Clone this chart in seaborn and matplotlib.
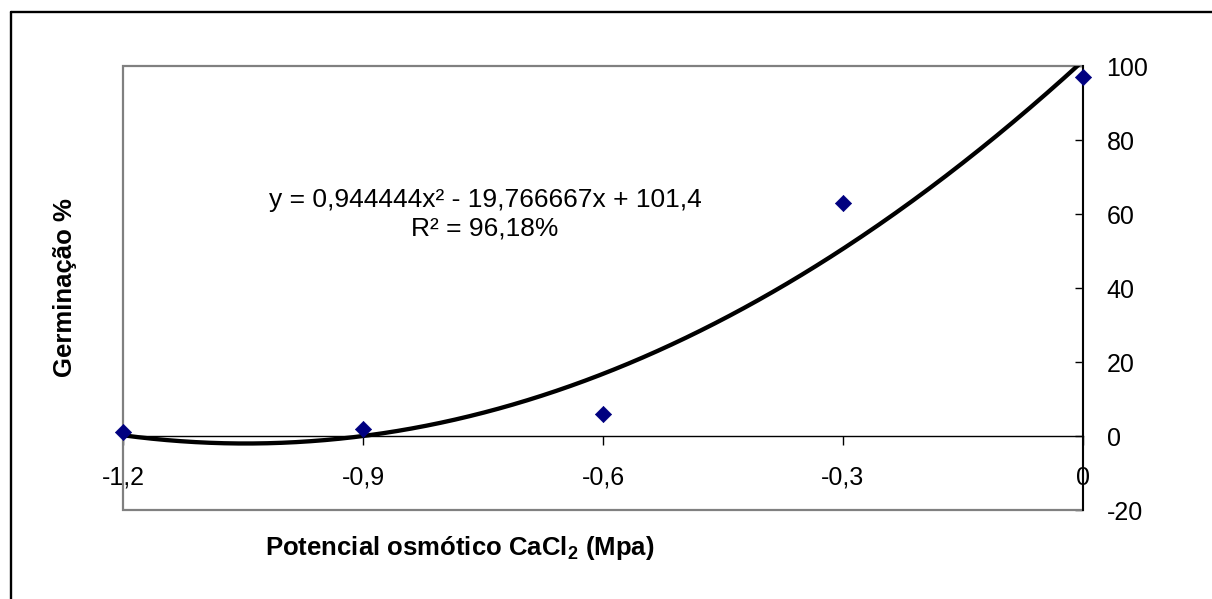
import numpy as np
import pandas as pd
import matplotlib
matplotlib.use("Agg")
import matplotlib.pyplot as plt
import seaborn as sns
from matplotlib.lines import Line2D
from matplotlib.patches import Rectangle

# Germination (%) under CaCl2 osmotic potential (MPa)
potencial = [-1.2, -0.9, -0.6, -0.3, 0.0]
germinacao = [1, 2, 6, 63, 97]

x_ticks = [-1.2, -0.9, -0.6, -0.3, 0.0]
x_tick_labels = ["-1,2", "-0,9", "-0,6", "-0,3", "0"]
y_ticks = [-20, 0, 20, 40, 60, 80, 100]
y_tick_labels = ["-20", "0", "20", "40", "60", "80", "100"]

equation = "y = 0,944444x² - 19,766667x + 101,4"
r2_label = "R² = 96,18%"
x_title = r"Potencial osmótico CaCl$_\mathbf{2}$ (Mpa)"
y_title = "Germinação %"

sns.set_theme(style="white")
plt.rcParams["font.family"] = ["Liberation Sans", "DejaVu Sans"]
plt.rcParams["mathtext.fontset"] = "custom"
plt.rcParams["mathtext.rm"] = "Liberation Sans"
plt.rcParams["mathtext.bf"] = "Liberation Sans:bold"
plt.rcParams["text.color"] = "black"
plt.rcParams["axes.labelcolor"] = "black"
plt.rcParams["xtick.color"] = "black"
plt.rcParams["ytick.color"] = "black"

df = pd.DataFrame({"potencial": potencial, "germinacao": germinacao})

W, H = 1212, 599
fig = plt.figure(figsize=(W / 100, H / 100), dpi=100)
fig.patch.set_facecolor("white")
ax = fig.add_axes([123 / W, 1 - 510 / H, 960 / W, 444 / H])
ax.set_facecolor("white")

# second-order polynomial trend line
coef = np.polyfit(potencial, germinacao, 2)
xs = np.linspace(min(potencial), max(potencial), 400)
trend = pd.DataFrame({"x": xs, "y": np.polyval(coef, xs)})
sns.lineplot(data=trend, x="x", y="y", ax=ax, color="black",
             linewidth=3.1, zorder=3, sort=False)

sns.scatterplot(data=df, x="potencial", y="germinacao", ax=ax,
                marker="D", s=68, color="#000080", edgecolor="#000080",
                linewidth=0.5, zorder=4, clip_on=False)

ax.set_xlim(-1.2, 0.0)
ax.set_ylim(-20, 100)

# plot-area frame
ax.add_patch(Rectangle((0, 0), 1, 1, transform=ax.transAxes, fill=False,
                       edgecolor="#808080", linewidth=1.6, zorder=1,
                       clip_on=False))
ax.spines["top"].set_visible(False)
ax.spines["left"].set_visible(False)
ax.spines["right"].set_color("black")
ax.spines["right"].set_linewidth(1.4)
ax.spines["right"].set_zorder(2)
ax.spines["bottom"].set_position(("data", 0))
ax.spines["bottom"].set_color("black")
ax.spines["bottom"].set_linewidth(1.0)

ax.yaxis.tick_right()
ax.set_yticks(y_ticks)
ax.set_yticklabels(y_tick_labels)
ax.tick_params(axis="y", which="both", direction="in", length=6, width=1.0,
               pad=17, labelsize=18, left=False, right=True,
               labelleft=False, labelright=True, colors="black")

ax.set_xticks(x_ticks)
ax.set_xticklabels(x_tick_labels)
ax.tick_params(axis="x", direction="out", length=6.5, width=1.0,
               pad=15, labelsize=18, bottom=True, top=False, colors="black")

ax.set_xlabel(x_title, fontsize=18.5, fontweight="bold", color="black")
ax.xaxis.label.set_va("center")
ax.xaxis.set_label_coords(0.351, -0.0856)

ax.yaxis.set_label_position("left")
ax.set_ylabel(y_title, fontsize=18.5, fontweight="bold", color="black")
ax.yaxis.label.set_va("center")
ax.yaxis.set_label_coords(-0.0604, 0.5)

ax.text(0.377, 0.698, equation, transform=ax.transAxes, ha="center",
        va="center", fontsize=19, color="black")
ax.text(0.377, 0.635, r2_label, transform=ax.transAxes, ha="center",
        va="center", fontsize=19, color="black")

ax.grid(False)

# chart border (top and left edges)
bx, by = 10.5 / W, 1 - 12 / H
fig.add_artist(Line2D([bx, 1.0], [by, by], transform=fig.transFigure,
                      color="black", linewidth=1.7))
fig.add_artist(Line2D([bx, bx], [0.0, by], transform=fig.transFigure,
                      color="black", linewidth=1.7))

fig.savefig("out.png", dpi=100, facecolor="white")
